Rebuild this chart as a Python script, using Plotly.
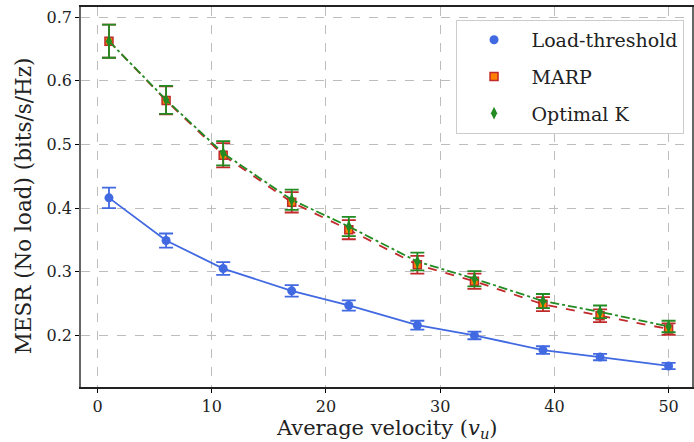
import plotly.graph_objects as go

velocity = [1, 6, 11, 17, 22, 28, 33, 39, 44, 50]

load_threshold = [0.416, 0.349, 0.305, 0.270, 0.247, 0.216, 0.200, 0.177, 0.166, 0.152]
load_threshold_err = [0.016, 0.011, 0.010, 0.009, 0.008, 0.007, 0.006, 0.006, 0.005, 0.005]

marp = [0.662, 0.569, 0.483, 0.409, 0.366, 0.311, 0.285, 0.249, 0.231, 0.210]
marp_err = [0.026, 0.022, 0.019, 0.016, 0.015, 0.014, 0.012, 0.011, 0.010, 0.009]

optimal_k = [0.662, 0.570, 0.486, 0.413, 0.371, 0.316, 0.289, 0.254, 0.237, 0.214]
optimal_k_err = [0.026, 0.022, 0.019, 0.016, 0.015, 0.014, 0.012, 0.011, 0.010, 0.009]

BLUE = "#4169E1"
RED = "#C02a2a"
ORANGE = "#FF8000"
GREEN = "#228B22"
FONT = "DejaVu Serif, Liberation Serif, serif"

fig = go.Figure()

series = [
    ("Load-threshold", load_threshold, load_threshold_err, BLUE, "solid",
     dict(symbol="circle", size=9, color=BLUE, line=dict(width=0))),
    ("MARP", marp, marp_err, RED, "dash",
     dict(symbol="square", size=8, color=ORANGE, line=dict(width=1.5, color=RED))),
    ("Optimal K", optimal_k, optimal_k_err, GREEN, "dashdot",
     dict(symbol="diamond-tall", size=9, color=GREEN, line=dict(width=0))),
]

for name, y, err, col, dash, marker in series:
    fig.add_trace(go.Scatter(
        x=velocity, y=y, mode="lines+markers", name=name, showlegend=False,
        line=dict(color=col, width=1.8, dash=dash),
        marker=marker,
        error_y=dict(type="data", array=err, visible=True, color=col, thickness=1.8, width=7),
    ))

for name, y, err, col, dash, marker in series:
    fig.add_trace(go.Scatter(
        x=[None], y=[None], mode="markers", name=name, marker=marker, showlegend=True,
        legendgroup=name,
    ))

axis_common = dict(
    showgrid=True, gridcolor="#bdbdbd", griddash="dash", gridwidth=1,
    zeroline=False, ticks="outside", ticklen=4, tickcolor="black",
    tickfont=dict(family=FONT, size=16, color="#222"),
    showline=True, mirror=True,
)

fig.update_layout(
    width=694, height=442,
    margin=dict(l=81, r=0, t=7, b=55),
    paper_bgcolor="white", plot_bgcolor="white",
    font=dict(family=FONT, color="#222"),
    xaxis=dict(
        range=[-1.45, 52.05], tickvals=[0, 10, 20, 30, 40, 50],
        linecolor="#222", linewidth=1.5,
        **axis_common,
    ),
    yaxis=dict(
        range=[0.119, 0.7157], tickvals=[0.2, 0.3, 0.4, 0.5, 0.6, 0.7],
        tickformat=".1f",
        linecolor="#666", linewidth=1.5,
        **axis_common,
    ),
    legend=dict(
        x=0.613, y=0.966, xanchor="left", yanchor="top",
        bgcolor="white", bordercolor="#cccccc", borderwidth=1,
        font=dict(family=FONT, size=19, color="#222"),
        itemwidth=65, traceorder="grouped", tracegroupgap=9,
    ),
    annotations=[
        dict(
            text="Average velocity (<i>v</i><sub><i>u</i></sub>)",
            xref="paper", yref="paper", x=0.5, y=-0.07, xanchor="center", yanchor="top",
            showarrow=False, font=dict(family=FONT, size=21, color="#222"),
        ),
        dict(
            text="MESR (No load) (bits/s/Hz)", textangle=-90,
            xref="paper", yref="paper", x=-0.0946, y=0.476, xanchor="center", yanchor="middle",
            showarrow=False, font=dict(family=FONT, size=21.5, color="#222"),
        ),
    ],
)

fig.write_html("out.html")
